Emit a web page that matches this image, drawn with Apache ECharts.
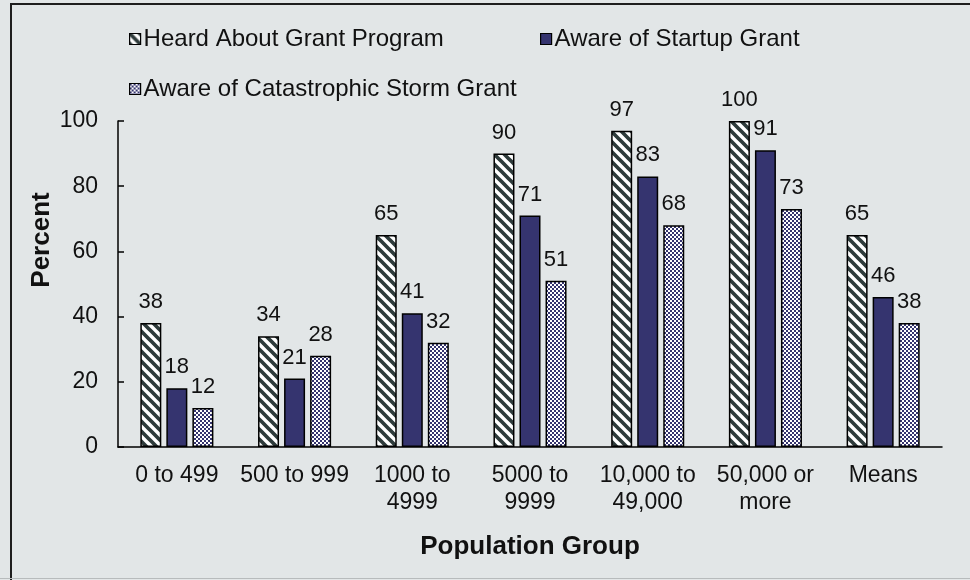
<!DOCTYPE html>
<html>
<head>
<meta charset="utf-8">
<script src="https://cdn.jsdelivr.net/npm/echarts@6/dist/echarts.min.js"></script>
<style>
html,body{margin:0;padding:0;background:#e2e6e7;}
#chart{width:970px;height:580px;}
</style>
</head>
<body>
<div id="chart"></div>
<script>
var categories = ['0 to 499', '500 to 999', '1000 to\n4999', '5000 to\n9999', '10,000 to\n49,000', '50,000 or\nmore', 'Means'];
var seriesNames = ['Heard About Grant Program', 'Aware of Startup Grant', 'Aware of Catastrophic Storm Grant'];
var heardValues = [38, 34, 65, 90, 97, 100, 65];
var startupValues = [18, 21, 41, 71, 83, 91, 46];
var stormValues = [12, 28, 32, 51, 68, 73, 38];
var yTicks = {min: 0, max: 100, interval: 20};

function stripePattern() {
  var p = 10;
  var c = document.createElement('canvas');
  c.width = p; c.height = p;
  var g = c.getContext('2d');
  g.fillStyle = '#ffffff';
  g.fillRect(0, 0, p, p);
  g.strokeStyle = '#2e3b3b';
  g.lineWidth = 3.7;
  g.beginPath();
  for (var k = -1; k <= 1; k++) {
    g.moveTo(k * p - 2, -2); g.lineTo(k * p + p + 2, p + 2);
  }
  g.stroke();
  return c;
}
function checkPattern() {
  var c = document.createElement('canvas');
  c.width = 4; c.height = 4;
  var g = c.getContext('2d');
  g.fillStyle = '#ffffff';
  g.fillRect(0, 0, 4, 4);
  g.fillStyle = '#35346f';
  g.fillRect(0, 0, 2, 2);
  g.fillRect(2, 2, 2, 2);
  return c;
}

var chart = echarts.init(document.getElementById('chart'), null, {renderer: 'canvas'});
var font = 'Liberation Sans, Arial, sans-serif';
var labelStyle = {show: true, position: 'top', distance: 10, fontSize: 22, color: '#111', fontFamily: font};
var barBorder = {borderColor: '#000', borderWidth: 1.5};

function legendAt(name, left, top) {
  return {
    data: [name], left: left, top: top, padding: 0, icon: 'rect', itemWidth: 11, itemHeight: 11, itemGap: 0,
    textStyle: {fontSize: 24, color: '#111', fontFamily: font, padding: [0, 0, 0, -2]},
    itemStyle: {borderColor: '#000', borderWidth: 1.2}
  };
}

chart.setOption({
  backgroundColor: '#e2e6e7',
  animation: false,
  graphic: [
    {type: 'rect', shape: {x: 11, y: 4, width: 1000, height: 700}, style: {fill: 'none', stroke: '#1e1e1e', lineWidth: 2}},
    {type: 'line', shape: {x1: 0, y1: 578.5, x2: 970, y2: 578.5}, style: {stroke: '#b7bbbc', lineWidth: 1}},
    {type: 'text', x: 42, y: 240, rotation: Math.PI / 2,
     style: {text: 'Percent', fontSize: 26, fontWeight: 'bold', fill: '#111', fontFamily: font, align: 'center', verticalAlign: 'middle'}}
  ],
  legend: [
    legendAt(seriesNames[0], 129, 27),
    legendAt(seriesNames[1], 540, 27),
    legendAt(seriesNames[2], 129, 77)
  ],
  grid: {left: 118, right: 28, top: 121, bottom: 133, containLabel: false},
  xAxis: {
    type: 'category',
    data: categories,
    axisLine: {show: true, lineStyle: {color: '#000', width: 1.5}},
    axisTick: {show: false},
    axisLabel: {fontSize: 23, color: '#111', fontFamily: font, margin: 15, lineHeight: 27, interval: 0},
    name: 'Population Group',
    nameLocation: 'middle',
    nameGap: 87,
    nameTextStyle: {fontSize: 26, fontWeight: 'bold', color: '#111', fontFamily: font}
  },
  yAxis: {
    type: 'value',
    min: yTicks.min, max: yTicks.max, interval: yTicks.interval,
    axisLine: {show: true, lineStyle: {color: '#000', width: 1.5}},
    axisTick: {show: true, inside: true, length: 6, lineStyle: {color: '#000', width: 1.5}},
    splitLine: {show: false},
    axisLabel: {fontSize: 23, color: '#111', fontFamily: font, margin: 20}
  },
  series: [
    {name: seriesNames[0], type: 'bar', data: heardValues, barWidth: 21, barGap: '24%',
     itemStyle: Object.assign({color: {image: stripePattern(), repeat: 'repeat'}}, barBorder), label: labelStyle},
    {name: seriesNames[1], type: 'bar', data: startupValues, barWidth: 21, barGap: '24%',
     itemStyle: Object.assign({color: '#35346f'}, barBorder), label: labelStyle},
    {name: seriesNames[2], type: 'bar', data: stormValues, barWidth: 21, barGap: '24%',
     itemStyle: Object.assign({color: {image: checkPattern(), repeat: 'repeat'}}, barBorder), label: labelStyle}
  ]
});
</script>
</body>
</html>
